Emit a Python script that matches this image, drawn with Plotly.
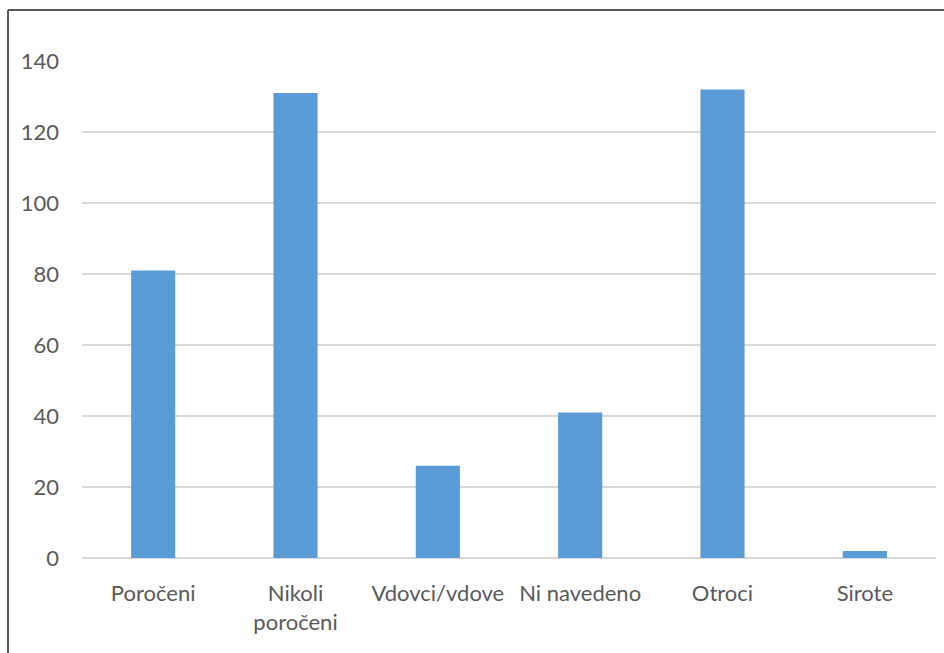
import plotly.graph_objects as go

categories = ["Poročeni", "Nikoli<br>poročeni", "Vdovci/vdove", "Ni navedeno", "Otroci", "Sirote"]
values = [81, 131, 26, 41, 132, 2]
y_ticks = [0, 20, 40, 60, 80, 100, 120, 140]

W, H = 944, 653
x0, x1 = 82, 936
y_top, y_bot = 61, 558

FONT = "Lato"
TXT = "#595959"

fig = go.Figure(go.Bar(
    x=categories,
    y=values,
    marker=dict(color="#5b9bd5", line=dict(width=0)),
    width=0.31,
    hoverinfo="skip",
))

fig.update_layout(
    width=W, height=H,
    margin=dict(l=0, r=0, t=0, b=0, autoexpand=False),
    paper_bgcolor="white", plot_bgcolor="white",
    showlegend=False,
    xaxis=dict(
        domain=[x0 / W, x1 / W],
        type="category",
        showgrid=False, zeroline=False, showline=False,
        ticks="", tickangle=0,
        ticklabelstandoff=20,
        tickfont=dict(family=FONT, size=22, color=TXT),
    ),
    yaxis=dict(
        domain=[1 - y_bot / H, 1 - y_top / H],
        range=[0, 140],
        tickvals=y_ticks,
        ticktext=[str(v) for v in y_ticks],
        showgrid=True, gridcolor="#d9d9d9", gridwidth=2,
        zeroline=True, zerolinecolor="#d9d9d9", zerolinewidth=2,
        showline=False, ticks="",
        ticklabelstandoff=22,
        tickfont=dict(family=FONT, size=22, color=TXT),
    ),
    shapes=[
        dict(type="line", xref="paper", yref="paper", x0=8 / W, x1=1, y0=1 - 10 / H, y1=1 - 10 / H,
             line=dict(color="#595959", width=2)),
        dict(type="line", xref="paper", yref="paper", x0=8 / W, x1=8 / W, y0=1 - 10 / H, y1=0,
             line=dict(color="#595959", width=2)),
    ],
)

fig.write_html("out.html")
